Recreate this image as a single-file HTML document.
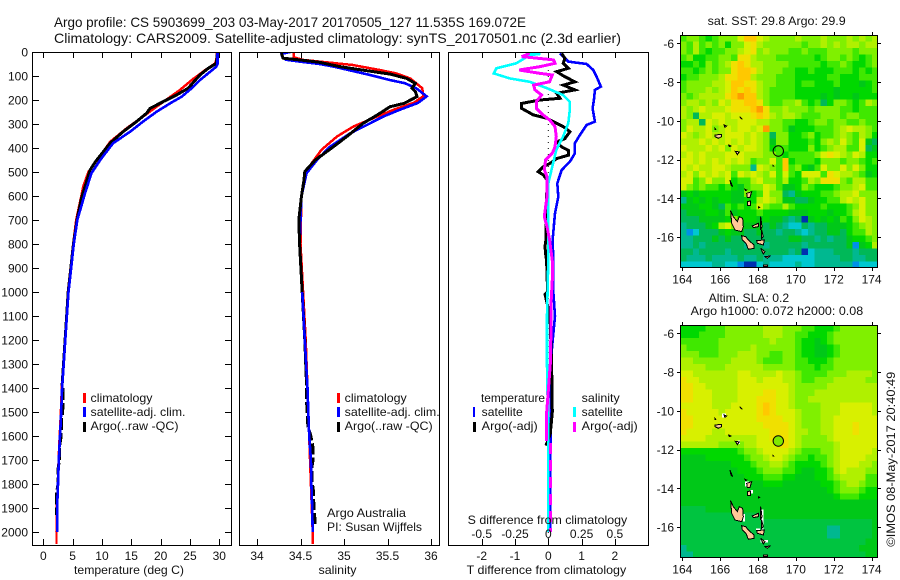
<!DOCTYPE html>
<html lang="en">
<head>
<meta charset="utf-8">
<title>Argo profile</title>
<style>
html,body{margin:0;padding:0;background:#fff;}
svg{display:block;font-family:"Liberation Sans",sans-serif;font-size:12px;fill:#000;}
text{fill:#111;}
</style>
</head>
<body>
<svg id="fig" xmlns="http://www.w3.org/2000/svg" width="900" height="580" viewBox="0 0 900 580">
  <defs>
    <clipPath id="clip-t"><rect x="33" y="52" width="198" height="493"/></clipPath>
    <clipPath id="clip-s"><rect x="240" y="52" width="199" height="493"/></clipPath>
    <clipPath id="clip-d"><rect x="449" y="52" width="199" height="493"/></clipPath>
    <clipPath id="clip-m1"><rect x="680" y="35" width="198" height="232"/></clipPath>
    <clipPath id="clip-m2"><rect x="680" y="325" width="198" height="232"/></clipPath>
    <g id="islands" fill="#ffc898" stroke="#000" stroke-width="3" shape-rendering="crispEdges">
      <polygon points="242,632 250,650 262,665 268,650 278,655 280,680 275,695 255,690 245,670"/>
      <polygon points="275,707 287,710 295,720 312,735 312,745 295,748 288,730 277,720"/>
      <polygon points="307,678 325,670 325,680 310,683"/>
      <polygon points="332,650 336,680 332,690"/>
      <polygon points="335,690 340,710 335,715"/>
      <polygon points="320,722 343,720 340,735 322,730"/>
      <polygon points="332,745 345,755 340,762"/>
      <polygon points="340,795 352,795 352,800 340,800"/>
      <polygon points="345,770 360,768 352,775"/>
      <polygon points="240,540 248,560 243,555"/>
      <polygon points="285,568 290,570 287,572"/>
      <polygon points="290,580 305,575 300,592 292,592"/>
      <polygon points="292,605 302,603 302,616 292,616"/>
      <polygon points="195,405 215,403 215,410 205,415 195,410"/>
      <polygon points="222,375 230,378 225,382"/>
      <polygon points="236,435 243,438 238,440"/>
      <polygon points="256,454 268,456 262,464"/>
      <polygon points="270,350 277,358 272,354"/>
      <polygon points="195,385 197,388 195,388"/>
      <polygon points="325,620 329,622 325,624"/>
      <polygon points="369,496 371,498 369,498"/>
    </g>
  </defs>

  <text x="54" y="27" font-size="14" textLength="472" lengthAdjust="spacingAndGlyphs">Argo profile: CS 5903699_203 03-May-2017 20170505_127 11.535S 169.072E</text>
  <text x="54" y="43" font-size="14" textLength="567" lengthAdjust="spacingAndGlyphs">Climatology: CARS2009. Satellite-adjusted climatology: synTS_20170501.nc (2.3d earlier)</text>

  <g id="temp-marks" clip-path="url(#clip-t)"></g>
  <g id="sal-marks" clip-path="url(#clip-s)"></g>
  <g id="diff-marks" clip-path="url(#clip-d)"></g>
  <g id="axes"></g>

  <text x="74" y="574" textLength="110" lengthAdjust="spacingAndGlyphs">temperature (deg C)</text>
  <text x="318.5" y="574" textLength="38" lengthAdjust="spacingAndGlyphs">salinity</text>
  <text x="466.7" y="574" textLength="159.5" lengthAdjust="spacingAndGlyphs">T difference from climatology</text>
  <text x="467.7" y="524" textLength="159.5" lengthAdjust="spacingAndGlyphs">S difference from climatology</text>

  <g>
    <rect x="83" y="393" width="3" height="10" fill="#ff0000"/>
    <rect x="83" y="407" width="3" height="10" fill="#0000ff"/>
    <rect x="83" y="422" width="3" height="10" fill="#000"/>
    <text x="90.5" y="402" textLength="62" lengthAdjust="spacingAndGlyphs">climatology</text>
    <text x="90.5" y="416" textLength="95" lengthAdjust="spacingAndGlyphs">satellite-adj. clim.</text>
    <text x="90.5" y="430" textLength="88" lengthAdjust="spacingAndGlyphs">Argo(..raw -QC)</text>
  </g>
  <g>
    <rect x="337" y="393" width="3" height="10" fill="#ff0000"/>
    <rect x="337" y="407" width="3" height="10" fill="#0000ff"/>
    <rect x="337" y="422" width="3" height="10" fill="#000"/>
    <text x="344.7" y="402" textLength="62" lengthAdjust="spacingAndGlyphs">climatology</text>
    <text x="344.7" y="416" textLength="95" lengthAdjust="spacingAndGlyphs">satellite-adj. clim.</text>
    <text x="344.7" y="430" textLength="88" lengthAdjust="spacingAndGlyphs">Argo(..raw -QC)</text>
    <text x="327" y="517" textLength="79" lengthAdjust="spacingAndGlyphs">Argo Australia</text>
    <text x="327" y="531" textLength="95" lengthAdjust="spacingAndGlyphs">PI: Susan Wijffels</text>
  </g>
  <g>
    <text x="481" y="402" textLength="64" lengthAdjust="spacingAndGlyphs">temperature</text>
    <rect x="473" y="407" width="2" height="10" fill="#0000ff"/>
    <rect x="473" y="422" width="3" height="10" fill="#000"/>
    <text x="481.7" y="416" textLength="41" lengthAdjust="spacingAndGlyphs">satellite</text>
    <text x="481.7" y="430" textLength="56" lengthAdjust="spacingAndGlyphs">Argo(-adj)</text>
    <text x="581.7" y="402" textLength="38" lengthAdjust="spacingAndGlyphs">salinity</text>
    <rect x="573" y="407" width="3" height="10" fill="#00ffff"/>
    <rect x="573" y="422" width="3" height="10" fill="#ff00ff"/>
    <text x="581.7" y="416" textLength="41" lengthAdjust="spacingAndGlyphs">satellite</text>
    <text x="581.7" y="430" textLength="56" lengthAdjust="spacingAndGlyphs">Argo(-adj)</text>
  </g>

  <text x="707.7" y="25" textLength="138" lengthAdjust="spacingAndGlyphs">sat. SST: 29.8  Argo: 29.9</text>
  <text x="708.7" y="302" textLength="80.5" lengthAdjust="spacingAndGlyphs">Altim. SLA: 0.2</text>
  <text x="690.7" y="315" textLength="172.5" lengthAdjust="spacingAndGlyphs">Argo h1000: 0.072 h2000: 0.08</text>
  <text transform="translate(895,546.7) rotate(-90)" textLength="175" lengthAdjust="spacingAndGlyphs">©IMOS 08-May-2017 20:40:49</text>

  <g id="map1-cells" clip-path="url(#clip-m1)" shape-rendering="crispEdges"></g>
  <g id="map2-cells" clip-path="url(#clip-m2)" shape-rendering="crispEdges"></g>

  <g transform="translate(650,290) scale(0.3333)" fill="#fff" shape-rendering="crispEdges">
    <rect x="216" y="370" width="12" height="12"/>
    <rect x="335" y="658" width="6" height="60"/>
    <rect x="318" y="716" width="12" height="5"/>
    <rect x="332" y="750" width="22" height="8"/>
    <rect x="285" y="575" width="12" height="14"/>
    <rect x="300" y="600" width="9" height="10"/>
    <rect x="279" y="672" width="6" height="22"/>
    <rect x="262" y="452" width="8" height="10"/>
  </g>
  <g transform="translate(650,0) scale(0.3333)"><use href="#islands"/></g>
  <g transform="translate(650,290) scale(0.3333)"><use href="#islands"/></g>

  <circle cx="778.3" cy="151" r="5.2" fill="none" stroke="#000" stroke-width="1"/>
  <circle cx="778.3" cy="441" r="5.2" fill="#80e800" stroke="#000" stroke-width="1"/>
  <g id="map-axes"></g>
</svg>

<script>
// ---------- depth axis and tick labels ----------
const depthTicks = [0,100,200,300,400,500,600,700,800,900,1000,1100,1200,1300,1400,1500,1600,1700,1800,1900,2000];
const tempTicks = [0,5,10,15,20,25,30];
const salTicks = [34,34.5,35,35.5,36];
const diffTTicks = [-2,-1,0,1,2];
const diffSTicks = [-0.5,-0.25,0,0.25,0.5];
const lonTicks = [164,166,168,170,172,174];
const latTicks = [-6,-8,-10,-12,-14,-16];

// ---------- temperature profile (deg C) ----------
const tempClimDepth = [0,30,47,75,117,158,193,228,269,318,374,443,499,561,610,700,800,1000,1200,1400,1500,1600,1700,1800,1900,2000,2050];
const tempClimValues = [29.6,29.5,29.3,27.6,25.3,23.3,21.3,19.3,17,14.2,11.4,9.4,7.7,6.8,6.4,5.6,5.1,4.2,3.7,3.15,3,2.8,2.6,2.5,2.3,2.25,2.25];
const tempSatDepth = [0,50,61,117,151,186,214,249,290,332,380,450,505,589,700,800,1000,1200,1400,1500,1600,1700,1800,1900,2000];
const tempSatValues = [29.7,29.7,29.5,26.7,25.3,23.6,21.6,19.3,17,14.8,11.9,9.7,8.2,7.1,5.8,5.2,4.3,3.75,3.2,3.05,2.85,2.65,2.5,2.35,2.35];
const tempArgoDepth = [0,47,68,96,151,179,207,235,255,290,332,380,450,491,561,610,700,800,1000,1200,1390];
const tempArgoValues = [29.7,29.5,28.1,26.7,24.7,22.7,20.4,18.2,17.6,15.9,13.6,11.4,9.1,8,7.1,6.5,5.75,5.15,4.25,3.72,3.2];
const tempArgoDeepDepth = [1400,1500,1530,1600,1640,1700,1740,1800,1840,1900,1930];
const tempArgoDeepValues = [3.4,3.3,3.1,3.05,2.8,2.75,2.5,2.5,2.25,2.25,2.25];

// ---------- salinity profile ----------
const salClimDepth = [0,22,33,54,75,89,110,151,185,212,241,269,310,352,408,463,505,602,800,1000,1200,1400,1600,1800,2000,2050];
const salClimValues = [34.42,34.42,34.53,35.1,35.41,35.6,35.76,35.9,35.91,35.8,35.57,35.38,35.11,34.92,34.74,34.63,34.55,34.51,34.5,34.53,34.56,34.58,34.6,34.62,34.64,34.64];
const salSatDepth = [0,8,20,32,40,50,61,96,117,130,151,185,212,241,269,297,339,394,450,505,602,800,1000];
const salSatValues = [34.38,34.28,34.29,34.33,34.49,34.72,34.88,35.3,35.53,35.7,35.83,35.95,35.85,35.64,35.45,35.3,35.07,34.84,34.69,34.57,34.51,34.49,34.52];
const salSatDeepDepth = [1000,1200,1400,1500,1600,1700,1800,1900,2000];
const salSatDeepValues = [34.52,34.55,34.58,34.59,34.6,34.62,34.625,34.635,34.64];
const salArgoDepth = [5,26,33,43,61,78,92,110,131,151,165,186,214,228,263,297,353,394,450,498,533,603,700,800,1000,1200,1390];
const salArgoValues = [34.28,34.3,34.49,34.72,34.95,35.26,35.53,35.72,35.82,35.78,35.82,35.84,35.69,35.53,35.38,35.22,35.03,34.88,34.67,34.55,34.54,34.51,34.48,34.49,34.52,34.55,34.57];
const salArgoDeepDepth = [1400,1450,1500,1560,1600,1650,1700,1730,1780,1830,1850,1900,1950,1970];
const salArgoDeepValues = [34.57,34.57,34.575,34.585,34.62,34.645,34.645,34.63,34.63,34.65,34.65,34.655,34.667,34.667];

// ---------- difference profiles ----------
const diffTSatDepth = [6,40,50,75,103,144,158,200,235,290,304,346,380,422,457,492,547,603,672,783,867,1000,1100,1250,1400,1600,1800,2000];
const diffTSatValues = [0.35,0.6,1.15,1.35,1.45,1.58,1.4,1.37,1.33,1.4,1.15,0.95,0.8,0.8,0.65,0.4,0.27,0.3,0.2,0.13,0.15,0.15,0.2,0.1,0.08,0.07,0.05,0.05];
const diffTArgoDepth = [6,26,47,68,82,103,124,138,158,172,193,200,214,235,262,276,290,311,332,361,375,395,410,430,444,464,478,499,512,534,600,700,780,810,840,870,1000,1010,1020,1100,1300,1500,1590,1640];
const diffTArgoValues = [0.4,0.5,0.45,0.6,0.25,0.5,0.8,0.45,0.8,0.25,0.35,-0.25,-0.8,-0.8,-0.45,-0.05,0.15,0.45,0.65,0.5,0.25,0.4,0.6,0.6,0.25,0.05,-0.15,-0.3,-0.15,-0.03,-0.05,-0.06,-0.07,-0.1,-0.08,-0.05,-0.02,-0.1,-0.08,0.05,0.1,0.12,0.06,-0.07];
const diffSSatDepth = [6,8,13,47,68,89,110,124,151,179,207,249,297,353,408,477,547,672,867,1100,1300,1600,2000];
const diffSSatValues = [-0.14,-0.06,-0.14,-0.24,-0.39,-0.41,-0.29,-0.14,-0.01,0.11,0.16,0.16,0.15,0.11,0.06,0.03,0,0,0,-0.01,-0.01,0,0];
const diffSArgoDepth = [6,19,33,47,61,75,89,96,124,138,158,179,207,235,262,283,311,353,395,422,450,491,519,569,603,686,728,783,870,950,1050,1150,1300,1500,1620];
const diffSArgoValues = [-0.14,-0.2,0.04,0.05,-0.06,-0.22,-0.06,0.03,0.01,-0.11,-0.1,-0.05,-0.09,-0.09,-0.04,0.01,0.05,0.06,0.05,0.03,-0.02,-0.03,-0.01,-0.01,-0.01,-0.03,-0.01,0.01,0.03,0.03,0.02,0.02,0.015,-0.012,-0.012];
const diffSArgoDeepDepth = [1630,2000];
const diffSArgoDeepValues = [0.018,0.018];

// ---------- map fields (one character per cell, rows north to south) ----------
const sstRows = [
"788 767 888 acc a98 888 988 898 889 898 9",
"879 787 868 8ab 988 888 878 898 989 989 9",
"879 767 788 9ab 898 887 787 778 888 788 8",
"786 677 887 bb9 888 777 777 678 878 767 8",
"667 687 89b cb9 988 887 777 767 787 667 8",
"776 787 88b ccb 988 877 667 666 777 676 7",
"677 888 9bb cc9 888 777 666 667 766 677 7",
"788 889 9ac cbb 988 777 677 666 766 656 7",
"788 898 9ac bcb 987 777 666 666 566 666 7",
"878 999 9bc dcc 987 777 666 656 566 566 6",
"899 898 a9b bcc b87 7 889767468876798",
"989 a99 9ab bbc db8 8 988878888776777",
"984 99a a9a aab cb9 8 998777888788777",
"899 4a9 a99 aaa 998 8 776678878877877",
"8a9 9a8 9a9 aa9 ad8 8 756667778 9a9987",
"a98 9a9 9aa a9a 984 8 866786778987986",
"999 a9a 9a9 a9a 985 8 866676898a87a54",
"a99 9a9 a8a 9aa 986 7 766686789977a45",
"9a9 a99 9aa a99 988 7 67777 8aba98a966",
"aa9 a9a 9a9 a97 88a 7 c67776888788767",
"a9a 99a a98 883 a98 7 c78657a88a8a866",
"9a8 a9a 9a7 a9a 98a 7 a76aaa7ba998756",
"aa7 8a8 8a6 779 a88 7 966798bbb879977",
"a87 877 676 578 8a9 7 556876667889a77",
"565 666 665 586 7a8 8 43566677899a888",
"356 565 665 566 9a9 8 554456677 9a9a88",
"555 665 476 767 a87 7 97 666 676 667 8a8 8",
"455 566 575 666 766 6 65 556 665 667 9a8 8",
"444 555 568 666 565 5 43 405 656 576 8a9 8",
"344 456 9a8 655 545 4 32 243 445 556 789 8",
"312 444 565 544 544 3 44 323 445 546 779 8",
"334 445 454 444 444 4 45 544 343 445 667 8",
"334 344 444 434 434 4 44 434 444 445 156 9",
"443 444 434 444 444 4 43 402 333 444 344 4",
"433 343 333 433 433 3 22 222 333 344 334 4",
"222 223 322 100 232 2 22 322 333 333 122 2"
];
const slaRows = [
"666 677 788 888 899 988 877 666 788 888 8",
"666 777 788 888 899 988 776 667 888 888 8",
"777 777 888 888 889 888 766 567 888 888 8",
"877 777 888 889 888 888 766 556 788 888 8",
"888 777 888 999 887 788 766 556 788 888 8",
"998 888 889 999 877 788 776 667 888 888 8",
"999 988 899 999 988 888 777 677 888 888 8",
"aa9 999 999 aa9 999 a99 877 778 889 999 8",
"baa 999 999 aaa 9aa a99 877 888 999 998 8",
"bba a99 999 aaa aaa aa9 888 889 999 999 9",
"bba aa9 999 aaa abb aa9 888 999 999 999 9",
"bba aa9 999 aaa bbb aa9 889 999 999 999 9",
"aaa aa9 99a aaa bcb aa9 888 899 9aa aaa 9",
"baa aaa 9aa aaa bcb aaa 988 899 9aa aaa 9",
"bba aaa aaa aaa bbb baa 988 899 aaa aaa a",
"bba aaa aaa aaa abb bba 988 899 aaa baa a",
"baa aa9 9aa aaa aab bba 998 899 aaa baa a",
"aaa a99 999 999 aab bba 988 889 aaa aaa a",
"999 999 888 899 aaa bba 988 888 9aa aaa a",
"666 666 666 788 9aa aa9 877 788 9aa aaa 9",
"555 566 666 678 89a a98 776 778 9aa aa9 9",
"555 555 556 667 889 987 666 678 9aa a99 8",
"555 555 555 666 788 877 655 667 9a9 998 8",
"555 555 555 566 677 766 555 667 899 997 7",
"555 555 555 555 566 655 555 566 789 987 7",
"555 555 555 555 555 555 555 556 788 876 6",
"555 555 555 555 555 555 555 555 677 766 6",
"555 555 555 555 555 555 555 555 555 555 5",
"eee e55 555 555 555 555 555 555 555 555 5",
"eee eee eee eee e55 555 555 555 555 555 5",
"eee eee eee eee eee eee eee eee eee eee 5",
"eee eee eee eee eee eee eee ee3 3ee eee 5",
"eee eee eee eee eee eee eee ee3 3ee eee 5",
"eee eee eee eee eee eee eee eee eee ee5 5",
"3ee eee eee eee eee eee eee eee eee e55 5",
"33e eee eee eee eee eee eee eee eee ee5 5"
];
const fieldColours = {'0':'#0030b0','1':'#0090e8','2':'#00c8d0','3':'#00b890','4':'#00b858','e':'#00c440','5':'#00c818','6':'#00d800','7':'#40e800','8':'#80f000','9':'#b0f000','a':'#d8f000','b':'#f0e000','c':'#ffc800','d':'#ff9c00'};

// ---------- axis functions ----------
const NS = 'http://www.w3.org/2000/svg';
const yDepth = d => 52 + 0.24 * d;
const xTemp = t => 43.3 + 5.867 * t;
const xSal = s => 257 + 87 * (s - 34);
const xDiffT = t => 548.3 + 33.3 * t;
const xDiffS = s => 548.3 + 133.2 * s;
const xLon = lon => 682.3 + 18.93 * (lon - 164);
const yLat = (lat, top) => top + 8.3 + 19.37 * (-6 - lat);

function make(tag, parent) {
  const el = document.createElementNS(NS, tag);
  parent.appendChild(el);
  return el;
}
function drawProfile(parent, name, depths, values, xFn, colour, width, dash) {
  const line = make('polyline', parent);
  
  
  line.setAttribute('points', depths.map((d, i) => xFn(values[i]).toFixed(1) + ',' + yDepth(d).toFixed(1)).join(' '));
  line.setAttribute('fill', 'none');
  line.setAttribute('stroke', colour);
  line.setAttribute('stroke-width', width);
  if (dash) line.setAttribute('stroke-dasharray', dash);
  line.setAttribute('shape-rendering', 'crispEdges');
}

const tempG = document.getElementById('temp-marks');
drawProfile(tempG, 'temperature-climatology-line', tempClimDepth, tempClimValues, xTemp, '#ff0000', 2.5);
drawProfile(tempG, 'temperature-argo-line', tempArgoDepth, tempArgoValues, xTemp, '#000000', 3);
drawProfile(tempG, 'temperature-argo-deep-line', tempArgoDeepDepth, tempArgoDeepValues, xTemp, '#000000', 3, '12 3');
drawProfile(tempG, 'temperature-satellite-line', tempSatDepth, tempSatValues, xTemp, '#0000ff', 2.6);

const salG = document.getElementById('sal-marks');
drawProfile(salG, 'salinity-climatology-line', salClimDepth, salClimValues, xSal, '#ff0000', 2.5);
drawProfile(salG, 'salinity-satellite-line', salSatDepth, salSatValues, xSal, '#0000ff', 2.6);
drawProfile(salG, 'salinity-argo-line', salArgoDepth, salArgoValues, xSal, '#000000', 3);
drawProfile(salG, 'salinity-argo-deep-line', salArgoDeepDepth, salArgoDeepValues, xSal, '#000000', 3, '11 3');
drawProfile(salG, 'salinity-satellite-deep-line', salSatDeepDepth, salSatDeepValues, xSal, '#0000ff', 2.6);

const diffG = document.getElementById('diff-marks');
const zeroLine = make('line', diffG);


zeroLine.setAttribute('x1', xDiffT(0));
zeroLine.setAttribute('x2', xDiffT(0));
zeroLine.setAttribute('y1', yDepth(0));
zeroLine.setAttribute('y2', yDepth(2050));
zeroLine.setAttribute('stroke', '#000');
zeroLine.setAttribute('stroke-dasharray', '1 5');
drawProfile(diffG, 't-difference-satellite-line', diffTSatDepth, diffTSatValues, xDiffT, '#0000ff', 2.6);
drawProfile(diffG, 't-difference-argo-line', diffTArgoDepth, diffTArgoValues, xDiffT, '#000000', 3);
drawProfile(diffG, 's-difference-satellite-line', diffSSatDepth, diffSSatValues, xDiffS, '#00ffff', 2.6);
drawProfile(diffG, 's-difference-argo-line', diffSArgoDepth, diffSArgoValues, xDiffS, '#ff00ff', 3);
drawProfile(diffG, 's-difference-argo-deep-line', diffSArgoDeepDepth, diffSArgoDeepValues, xDiffS, '#ff00ff', 3, '11 6');

// ---------- profile axes ----------
const axesG = document.getElementById('axes');
function frame(parent, name, x, y, w, h) {
  const r = make('rect', parent);
  
  
  r.setAttribute('x', x);
  r.setAttribute('y', y);
  r.setAttribute('width', w);
  r.setAttribute('height', h);
  r.setAttribute('fill', 'none');
  r.setAttribute('stroke', '#000');
  r.setAttribute('shape-rendering', 'crispEdges');
}
function tick(parent, x1, y1, x2, y2) {
  const l = make('line', parent);
  
  
  l.setAttribute('x1', x1);
  l.setAttribute('y1', y1);
  l.setAttribute('x2', x2);
  l.setAttribute('y2', y2);
  l.setAttribute('stroke', '#000');
  l.setAttribute('shape-rendering', 'crispEdges');
}
function label(parent, str, x, y, anchor) {
  const t = make('text', parent);
  
  
  t.setAttribute('x', x);
  t.setAttribute('y', y);
  t.setAttribute('text-anchor', anchor);
  t.textContent = str;
}
frame(axesG, 'temperature-plot-frame', 32.5, 52.5, 199, 493);
frame(axesG, 'salinity-plot-frame', 239.5, 52.5, 200, 493);
frame(axesG, 'difference-plot-frame', 448.5, 52.5, 200, 493);
depthTicks.forEach(d => {
  const y = Math.round(yDepth(d)) + 0.5;
  tick(axesG, 33, y, 39, y);
  tick(axesG, 225, y, 231, y);
  label(axesG, String(d), 28, yDepth(d) + 4.5, 'end');
});
tempTicks.forEach(t => {
  const x = Math.round(xTemp(t)) + 0.5;
  tick(axesG, x, 52, x, 58);
  tick(axesG, x, 539, x, 545);
  label(axesG, String(t), xTemp(t), 560, 'middle');
});
salTicks.forEach(s => {
  const x = Math.round(xSal(s)) + 0.5;
  tick(axesG, x, 52, x, 58);
  tick(axesG, x, 539, x, 545);
  label(axesG, String(s), xSal(s), 560, 'middle');
});
diffTTicks.forEach(t => {
  const x = Math.round(xDiffT(t)) + 0.5;
  tick(axesG, x, 52, x, 58);
  tick(axesG, x, 539, x, 545);
  label(axesG, String(t), xDiffT(t), 560, 'middle');
});
diffSTicks.forEach(s => {
  label(axesG, String(s), xDiffS(s), 538, 'middle');
});

// ---------- maps ----------
function drawField(parentId, rows, top, cellName) {
  const parent = document.getElementById(parentId);
  const clean = rows.map(r => r.replace(/ /g, ''));
  const nRows = clean.length;
  const lonStart = 163.88, lonEnd = 174.35, latStart = -5.57, latEnd = -17.6;
  clean.forEach((row, r) => {
    const nCols = row.length;
    for (let c = 0; c < nCols; c++) {
      const lonA = lonStart + (lonEnd - lonStart) * c / nCols;
      const lonB = lonStart + (lonEnd - lonStart) * (c + 1) / nCols;
      const latA = latStart + (latEnd - latStart) * r / nRows;
      const latB = latStart + (latEnd - latStart) * (r + 1) / nRows;
      const cell = make('rect', parent);
      
      
      cell.setAttribute('x', xLon(lonA).toFixed(1));
      cell.setAttribute('y', yLat(latA, top).toFixed(1));
      cell.setAttribute('width', (xLon(lonB) - xLon(lonA) + 0.6).toFixed(1));
      cell.setAttribute('height', (yLat(latB, top) - yLat(latA, top) + 0.6).toFixed(1));
      cell.setAttribute('fill', fieldColours[row[c]]);
    }
  });
}
drawField('map1-cells', sstRows, 35, 'sst-cell');
drawField('map2-cells', slaRows, 325, 'sla-cell');

const mapAxes = document.getElementById('map-axes');
[[35, 'sst-map-frame'], [325, 'sla-map-frame']].forEach(([top, name]) => {
  frame(mapAxes, name, 680.5, top + 0.5, 197, 232);
  lonTicks.forEach(lon => {
    const x = Math.round(xLon(lon)) + 0.5;
    tick(mapAxes, x, top - 3, x, top);
    tick(mapAxes, x, top + 232, x, top + 236);
    label(mapAxes, String(lon), xLon(lon), top + 248.5, 'middle');
  });
  latTicks.forEach(lat => {
    const y = Math.round(yLat(lat, top)) + 0.5;
    tick(mapAxes, 677, y, 680, y);
    tick(mapAxes, 878, y, 881, y);
    label(mapAxes, String(lat), 674, yLat(lat, top) + 4.5, 'end');
  });
});
</script>
</body>
</html>
